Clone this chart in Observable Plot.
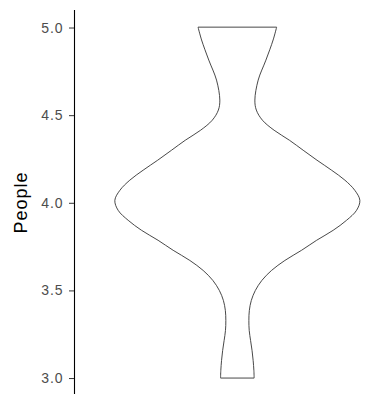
<!DOCTYPE html>
<html>
<head>
<meta charset="utf-8">
<script src="https://cdn.jsdelivr.net/npm/d3@7"></script>
<script src="https://cdn.jsdelivr.net/npm/@observablehq/plot@0.6"></script>
<style>
  html, body { margin: 0; padding: 0; background: #ffffff; }
  #chart svg { display: block; }
  #chart .tick-label text { letter-spacing: 0.9px; }
  #chart .y-title text { letter-spacing: 1px; }
</style>
</head>
<body>
<div id="chart"></div>
<script>
// Violin outline: value of People and relative density (max = 1)
const people  = [5.0, 4.929, 4.814, 4.700, 4.586, 4.529, 4.471, 4.414, 4.357, 4.300, 4.243, 4.186, 4.129, 4.071, 4.014, 3.957, 3.900, 3.843, 3.786, 3.729, 3.671, 3.614, 3.557, 3.500, 3.443, 3.386, 3.329, 3.271, 3.214, 3.157, 3.100, 3.043, 3.0];
const density = [0.320, 0.292, 0.233, 0.170, 0.143, 0.155, 0.205, 0.300, 0.425, 0.537, 0.650, 0.769, 0.878, 0.959, 1.000, 0.973, 0.891, 0.782, 0.647, 0.524, 0.388, 0.279, 0.200, 0.147, 0.114, 0.098, 0.094, 0.097, 0.108, 0.120, 0.129, 0.135, 0.137];
const yTicks = [3.0, 3.5, 4.0, 4.5, 5.0];
const yTitle = "People";
const group = 1;          // single violin category position
const halfWidth = 0.45;   // ggplot violin width 0.9

const rows = people.map((v, i) => ({v, w: density[i]}));

const chart = Plot.plot({
  width: 390,
  height: 394,
  marginLeft: 74,
  marginRight: 0,
  marginTop: 10,
  marginBottom: 0,
  style: {fontFamily: "'Liberation Sans', Arial, sans-serif", background: "#ffffff"},
  x: {domain: [0.4, 1.6], range: [74, 400.7], axis: null},
  y: {domain: [2.909, 5.1], axis: null},
  marks: [
    Plot.areaX(rows, {
      y: "v",
      x1: d => group - halfWidth * d.w,
      x2: d => group + halfWidth * d.w,
      curve: "catmull-rom",
      fill: "#ffffff",
      stroke: "#333333",
      strokeWidth: 0.9
    }),
    Plot.ruleX([0.4], {stroke: "#000000", strokeWidth: 1.1}),
    Plot.axisY(yTicks, {
      tickFormat: d3.format(".1f"),
      tickSize: 5,
      tickPadding: 6,
      fontSize: 14,
      fill: "#4d4d4d",
      stroke: "#333333",
      label: null,
      className: "tick-label"
    }),
    Plot.text([yTitle], {
      frameAnchor: "left",
      textAnchor: "middle",
      rotate: -90,
      dx: -53,
      fontSize: 18,
      fill: "#000000",
      text: d => d,
      className: "y-title"
    })
  ]
});

document.getElementById("chart").appendChild(chart);
</script>
</body>
</html>
